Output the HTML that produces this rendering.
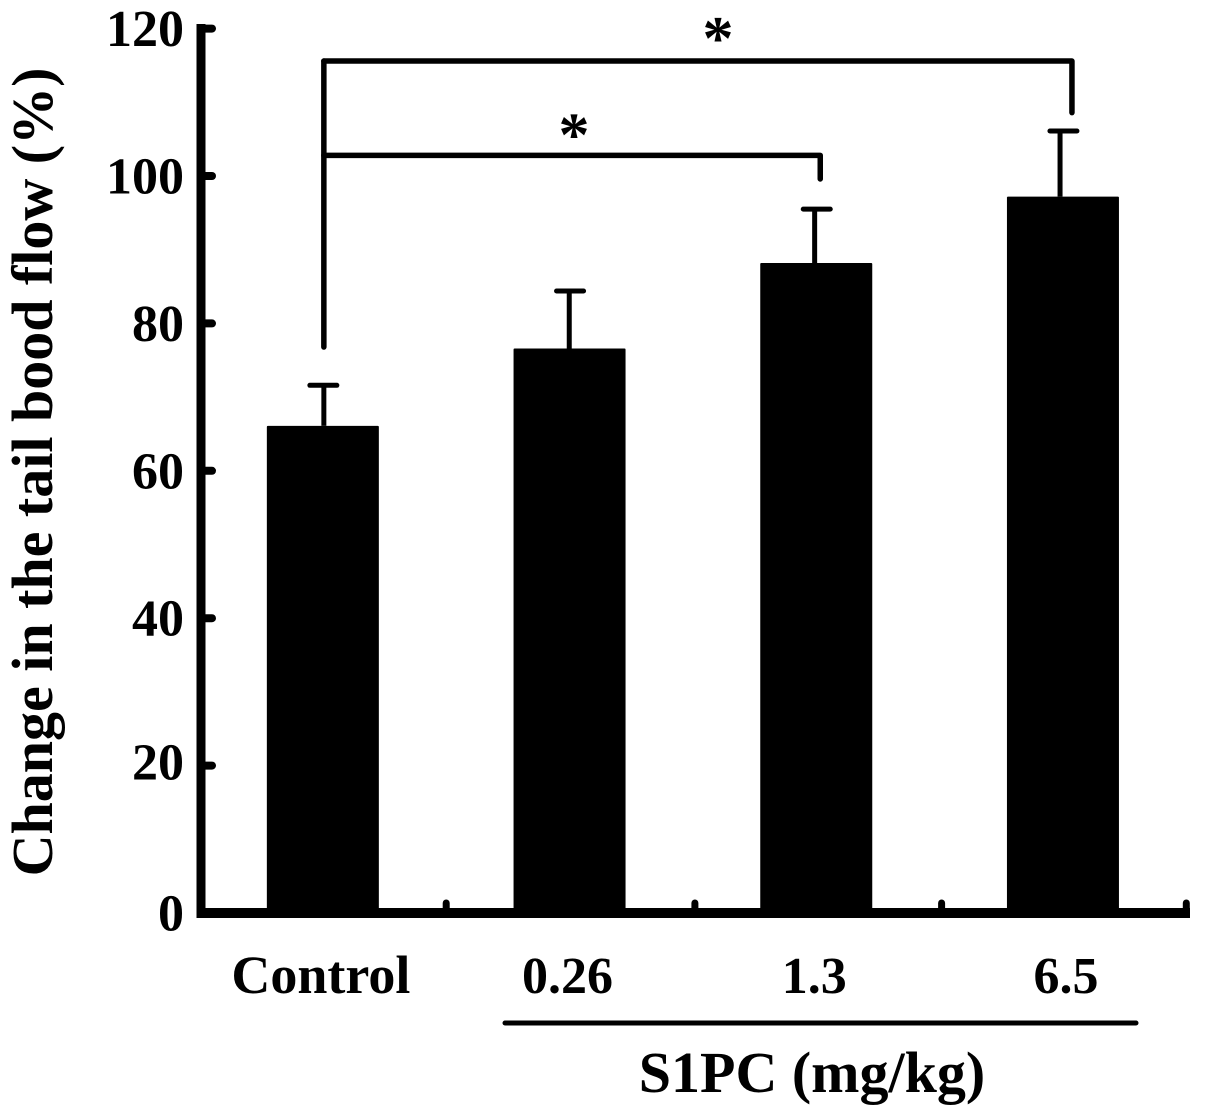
<!DOCTYPE html>
<html>
<head>
<meta charset="utf-8">
<title>Change in the tail blood flow</title>
<style>
html,body{margin:0;padding:0;background:#fff;width:1205px;height:1117px;overflow:hidden}
svg{display:block}
text{font-family:"Liberation Serif",serif;font-weight:bold;fill:#000}
</style>
</head>
<body>
<svg id="chart" width="1205" height="1117" viewBox="0 0 1205 1117" xmlns="http://www.w3.org/2000/svg">
  <rect width="1205" height="1117" fill="#fff"/>
  <g id="bars"></g>
  <g id="errors"></g>
  <g id="axes"></g>
  <g id="labels"></g>
  <g id="brackets"></g>
  <line x1="505" y1="1023" x2="1136" y2="1023" stroke="#000" stroke-width="5" stroke-linecap="round"/>
  <text x="812" y="1092" font-size="58" text-anchor="middle">S1PC (mg/kg)</text>
  <text transform="translate(52,472) rotate(-90)" font-size="58" text-anchor="middle">Change in the tail bood flow (%)</text>
</svg>
<script>
const categories = ["Control", "0.26", "1.3", "6.5"];
const barValues = [66.1, 76.6, 88.2, 97.2];
const errorTops = [71.6, 84.4, 95.5, 106.1];
const yTicks = [0, 20, 40, 60, 80, 100, 120];
const significance = [
  { to: 3, level: 115.6, drop: 108.6, label: "*" },
  { to: 2, level: 102.8, drop: 99.6, label: "*" }
];

const NS = "http://www.w3.org/2000/svg";
const Y0 = 913, UNIT = 7.37, X0 = 199.5, STEP = 246.7, BAR_W = 112;
const y = v => Y0 - v * UNIT;
const bandCenter = i => X0 + (i + 0.5) * STEP;
const bandEdge = i => X0 + (i + 1) * STEP + (i === 1 || i === 2 ? 2 : 0);
const labelX = i => bandCenter(i) + (i === 3 ? 3 : -2);
const stemX = i => bandCenter(i) + 1 - i * 1.3;

function make(tag, attrs, parent) {
  const el = document.createElementNS(NS, tag);
  for (const k in attrs) el.setAttribute(k, attrs[k]);
  parent.appendChild(el);
  return el;
}

const barsG = document.getElementById("bars");
const errG = document.getElementById("errors");
const axesG = document.getElementById("axes");
const labelsG = document.getElementById("labels");
const brG = document.getElementById("brackets");

barValues.forEach((v, i) => {
  const bar = make("rect", { x: bandCenter(i) - BAR_W / 2, y: y(v), width: BAR_W, height: Y0 - y(v), fill: "#000", rx: 1 }, barsG);
  
  

  const stem = make("line", { x1: stemX(i), x2: stemX(i), y1: y(v), y2: y(errorTops[i]), stroke: "#000", "stroke-width": 5 }, errG);
  
  

  const cap = make("line", { x1: bandCenter(i) - 13, x2: bandCenter(i) + 14, y1: y(errorTops[i]), y2: y(errorTops[i]), stroke: "#000", "stroke-width": 5, "stroke-linecap": "round" }, errG);
  
  

  const lab = make("text", { x: labelX(i), y: 993, "font-size": i === 0 ? 54 : 52, "text-anchor": "middle" }, labelsG);
  lab.textContent = categories[i];
  
  

  const tick = make("line", { x1: bandEdge(i), x2: bandEdge(i), y1: 903, y2: Y0, stroke: "#000", "stroke-width": 7, "stroke-linecap": "round" }, axesG);
  
  
});

const yAxis = make("line", { x1: 201, x2: 201, y1: 24, y2: 918, stroke: "#000", "stroke-width": 9 }, axesG);



const xAxis = make("line", { x1: 197, x2: 1190, y1: Y0, y2: Y0, stroke: "#000", "stroke-width": 10 }, axesG);



yTicks.forEach(t => {
  const tick = make("line", { x1: 201, x2: 212, y1: y(t), y2: y(t), stroke: "#000", "stroke-width": 8, "stroke-linecap": "round" }, axesG);
  
  

  const lab = make("text", { x: 184, y: y(t) + (t === 20 ? 14 : 17.5), "font-size": 52, "text-anchor": "end" }, labelsG);
  lab.textContent = t;
  
  
});

const bx = bandCenter(0) + 1;
significance.forEach((s, idx) => {
  const ex = bandCenter(s.to) + (s.to === 3 ? 9 : 4);
  const path = make("path", { d: "M" + bx + " " + y(s.level) + "H" + ex + "V" + y(s.drop), fill: "none", stroke: "#000", "stroke-width": 5.5, "stroke-linejoin": "round", "stroke-linecap": "round" }, brG);
  
  

  const star = make("text", { x: idx === 0 ? 718 : 574, y: y(s.level) - (idx === 0 ? 2 : 0), "font-size": 62, "text-anchor": "middle" }, brG);
  star.textContent = s.label;
  
  
});

const stemCtrl = make("line", { x1: bx, x2: bx, y1: y(significance[0].level), y2: 347, stroke: "#000", "stroke-width": 5.5, "stroke-linecap": "round" }, brG);


</script>
</body>
</html>
